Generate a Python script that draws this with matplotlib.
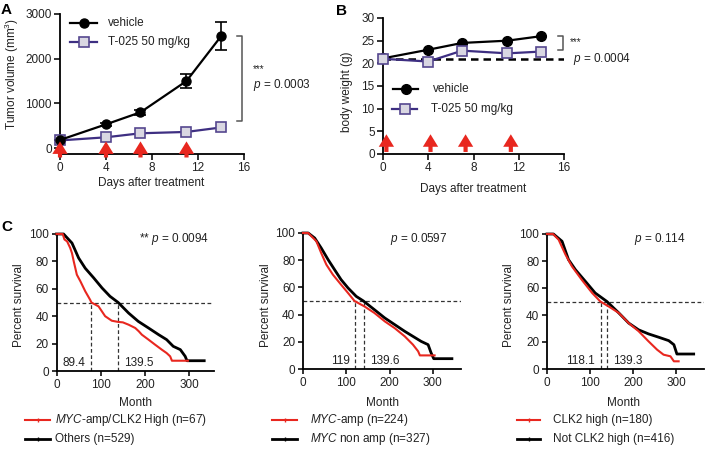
import numpy as np
import matplotlib.pyplot as plt
from matplotlib.lines import Line2D

plt.rcParams['font.family'] = ['Liberation Sans', 'DejaVu Sans']
plt.rcParams['font.size'] = 8.5
plt.rcParams['mathtext.fontset'] = 'custom'
plt.rcParams['mathtext.it'] = 'Liberation Sans:italic'
plt.rcParams['mathtext.rm'] = 'Liberation Sans'
plt.rcParams['text.color'] = '#222222'
plt.rcParams['xtick.color'] = '#222222'
plt.rcParams['ytick.color'] = '#222222'

RED = '#e8271f'
PURPLE = '#3e2f82'
SQ_FACE = '#d9d7e2'
SQ_EDGE = '#55478f'

# ---- panel A: tumor volume ----
days = [0, 4, 7, 11, 14]
vehicle_vol = [180, 530, 800, 1500, 2500]
vehicle_err = [0, 40, 50, 160, 310]
t025_vol = [170, 240, 330, 360, 460]
dose_days_a = [0, 4, 7, 11]

# ---- panel B: body weight ----
vehicle_bw = [21.1, 23.0, 24.5, 25.0, 26.0]
t025_bw = [21.0, 20.4, 22.8, 22.2, 22.6]
baseline_bw = 21.0
dose_days_b = [0.3, 4.2, 7.3, 11.3]

# ---- panel C: Kaplan-Meier curves (month, percent survival) ----
c1_red_t = [0, 14, 18, 24, 31, 35, 39, 46, 54, 65, 76, 79, 95, 110, 125, 140, 150,
            163, 178, 186, 193, 208, 223, 238, 249, 257, 261, 297]
c1_red_s = [100, 100, 96, 94.6, 89.8, 86, 80, 70.3, 65.5, 58.2, 52, 50, 47.2, 40, 36.7,
            35.8, 35.5, 33.8, 31.4, 29, 26.5, 22.9, 19.2, 15.6, 13.1, 10.7, 7.5, 7.5]
c1_blk_t = [0, 16, 35, 50, 65, 84, 103, 121, 139.5, 163, 185, 208, 231, 249, 264,
            280, 291, 295, 334]
c1_blk_s = [100, 100, 93.4, 82.5, 75, 68, 60.6, 54.5, 50, 42.3, 36.2, 31.4, 26.5,
            22.9, 18, 15.6, 10.7, 7.5, 7.5]

c2_red_t = [0, 12, 31, 42, 54, 69, 88, 104, 119, 142, 165, 189, 212, 235, 254, 266,
            270, 304]
c2_red_s = [100, 100, 93.9, 85.3, 76.7, 69.4, 62, 55.9, 50, 46, 41.2, 35, 30, 24,
            17.9, 13, 10, 10]
c2_blk_t = [0, 12, 27, 42, 58, 73, 88, 104, 123, 139.6, 165, 189, 212, 235, 254,
            273, 289, 296, 302, 344]
c2_blk_s = [100, 100, 96.3, 89, 80.4, 73, 65.7, 59.6, 53.4, 50, 43.6, 37.5, 32.6,
            27.7, 24, 20.3, 17.9, 11.8, 7.6, 7.6]

c3_red_t = [0, 14, 27, 43, 58, 81, 105, 124, 143, 167, 190, 213, 236, 256, 271, 287,
            295, 306]
c3_red_s = [100, 100, 95.8, 84.7, 76, 66, 56.3, 50, 46.4, 41.5, 34, 28, 20.5, 14.3,
            10.6, 9.4, 5.7, 5.7]
c3_blk_t = [0, 15, 35, 50, 66, 89, 112, 139.3, 167, 190, 213, 236, 260, 283, 295,
            302, 341]
c3_blk_s = [100, 100, 94.6, 81, 73.6, 65, 56.3, 50, 41.5, 34, 29, 26, 23.5, 21, 18,
            11.1, 11.1]

km_panels = [
    dict(red=(c1_red_t, c1_red_s), blk=(c1_blk_t, c1_blk_s), med_x=[78, 139.5],
         med_lab=['89.4', '139.5'], p='** $p$ = 0.0094', xmax=355,
         leg=['$\\it{MYC}$-amp/CLK2 High (n=67)', 'Others (n=529)']),
    dict(red=(c2_red_t, c2_red_s), blk=(c2_blk_t, c2_blk_s), med_x=[121, 142],
         med_lab=['119', '139.6'], p='$p$ = 0.0597', xmax=365,
         leg=['$\\it{MYC}$-amp (n=224)', '$\\it{MYC}$ non amp (n=327)']),
    dict(red=(c3_red_t, c3_red_s), blk=(c3_blk_t, c3_blk_s), med_x=[125, 140],
         med_lab=['118.1', '139.3'], p='$p$ = 0.114', xmax=365,
         leg=['CLK2 high (n=180)', 'Not CLK2 high (n=416)']),
]

W, H = 709, 449
fig = plt.figure(figsize=(W / 100, H / 100), dpi=100)


def box(l, t, r, b):
    return [l / W, 1 - b / H, (r - l) / W, (b - t) / H]


def fx(px):
    return px / W


def fy(py):
    return 1 - py / H


def style(ax):
    for s in ['top', 'right']:
        ax.spines[s].set_visible(False)
    for s in ['left', 'bottom']:
        ax.spines[s].set_linewidth(1.3)
    ax.tick_params(width=1.3, length=4, pad=2, labelsize=8.5)


# panel A
axA = fig.add_axes(box(60, 14, 244, 154))
style(axA)
axA.errorbar(days, vehicle_vol, yerr=vehicle_err, color='black', lw=1.6, marker='o',
             ms=6.5, capsize=4, elinewidth=1.2, capthick=1.2, clip_on=False, zorder=3)
axA.plot(days, t025_vol, color=PURPLE, lw=1.6, marker='s', ms=7, mfc=SQ_FACE,
         mec=SQ_EDGE, mew=1.2, clip_on=False, zorder=3)
for d in dose_days_a:
    axA.annotate('', xy=(d, 0.09), xytext=(d, -0.025),
                 xycoords=('data', 'axes fraction'),
                 arrowprops=dict(facecolor=RED, edgecolor='none', width=3,
                                 headwidth=11, headlength=9, shrink=0),
                 annotation_clip=False, zorder=4)
axA.set_xlim(0, 16)
axA.set_ylim(-134, 3000)
axA.set_xticks([0, 4, 8, 12, 16])
axA.set_yticks([0, 1000, 2000, 3000])
# significance bracket
axA.plot([15.4, 15.8, 15.8, 15.4], [2500, 2500, 600, 600], color='#555555', lw=1.1,
         clip_on=False)
fig.text(fx(253), fy(69), '***', fontsize=7, va='center')
fig.text(fx(253), fy(85), '$p$ = 0.0003', va='center')
fig.text(fx(12), fy(74), 'Tumor volume (mm$^3$)', rotation=90, ha='center', va='center')
fig.text(fx(151), fy(183), 'Days after treatment', ha='center', va='center')
fig.text(fx(1), fy(10), 'A', fontsize=11, fontweight='bold', va='center', color='black')
# legend A
fig.add_artist(Line2D([fx(70), fx(97)], [fy(23), fy(23)], color='black', lw=1.6,
                      transform=fig.transFigure))
fig.add_artist(Line2D([fx(83.5)], [fy(23)], color='black', marker='o', ms=6.5,
                      transform=fig.transFigure))
fig.add_artist(Line2D([fx(70), fx(97)], [fy(42), fy(42)], color=PURPLE, lw=1.6,
                      transform=fig.transFigure))
fig.add_artist(Line2D([fx(83.5)], [fy(42)], marker='s', ms=7, mfc=SQ_FACE, mec=SQ_EDGE,
                      mew=1.2, transform=fig.transFigure))
fig.text(fx(108), fy(23), 'vehicle', va='center')
fig.text(fx(108), fy(42), 'T-025 50 mg/kg', va='center')

# panel B
axB = fig.add_axes(box(383, 18, 564, 154))
style(axB)
axB.plot([0, 16], [baseline_bw, baseline_bw], color='black', lw=1.8, ls=(0, (3, 2)),
         zorder=2)
axB.plot(days, vehicle_bw, color='black', lw=1.6, marker='o', ms=7, clip_on=False,
         zorder=3)
axB.plot(days, t025_bw, color=PURPLE, lw=1.6, marker='s', ms=7.5, mfc=SQ_FACE,
         mec=SQ_EDGE, mew=1.2, clip_on=False, zorder=3)
for d in dose_days_b:
    axB.annotate('', xy=(d, 0.145), xytext=(d, 0.015),
                 xycoords=('data', 'axes fraction'),
                 arrowprops=dict(facecolor=RED, edgecolor='none', width=3,
                                 headwidth=11, headlength=9, shrink=0),
                 annotation_clip=False, zorder=4)
axB.set_xlim(0, 16)
axB.set_ylim(0, 30)
axB.set_xticks([0, 4, 8, 12, 16])
axB.set_yticks([0, 5, 10, 15, 20, 25, 30])
axB.plot([15.5, 15.9, 15.9, 15.5], [26.0, 26.0, 22.9, 22.9], color='#555555', lw=1.1,
         clip_on=False)
fig.text(fx(570), fy(42), '***', fontsize=7, va='center')
fig.text(fx(573), fy(59), '$p$ = 0.0004', va='center')
fig.text(fx(347), fy(92), 'body weight (g)', rotation=90, ha='center', va='center')
fig.text(fx(473), fy(189), 'Days after treatment', ha='center', va='center')
fig.text(fx(336), fy(11), 'B', fontsize=11, fontweight='bold', va='center', color='black')
fig.add_artist(Line2D([fx(393), fx(418)], [fy(89), fy(89)], color='black', lw=1.6,
                      transform=fig.transFigure))
fig.add_artist(Line2D([fx(406)], [fy(89)], color='black', marker='o', ms=7,
                      transform=fig.transFigure))
fig.add_artist(Line2D([fx(392), fx(417)], [fy(109), fy(109)], color=PURPLE, lw=1.6,
                      transform=fig.transFigure))
fig.add_artist(Line2D([fx(404.5)], [fy(109)], marker='s', ms=7.5, mfc=SQ_FACE,
                      mec=SQ_EDGE, mew=1.2, transform=fig.transFigure))
fig.text(fx(433), fy(89), 'vehicle', va='center')
fig.text(fx(431), fy(109), 'T-025 50 mg/kg', va='center')

# panel C
c_boxes = [(56.5, 234, 213.5, 371), (303, 233, 461, 369), (547, 234, 704, 369)]
ylab_x = [19, 266, 509]
month_x = [135, 382, 624]
p_right = [209, 447, 685]
leg_line = [(25, 50, 55), (272, 297, 310), (517, 540, 553)]
for i, (pan, bx) in enumerate(zip(km_panels, c_boxes)):
    ax = fig.add_axes(box(*bx))
    style(ax)
    ax.tick_params(length=3.5)
    ax.set_xlim(0, pan['xmax'])
    ax.set_ylim(0, 100)
    ax.set_xticks([0, 100, 200, 300])
    ax.set_yticks([0, 20, 40, 60, 80, 100])
    ax.plot([0, pan['xmax']], [50, 50], color='#333333', lw=0.9, ls=(0, (3, 2)))
    for mx in pan['med_x']:
        ax.plot([mx, mx], [0, 50], color='#333333', lw=0.9, ls=(0, (3, 2)))
    ax.plot(*pan['blk'], color='black', lw=2.0, clip_on=False, zorder=3)
    ax.plot(*pan['red'], color=RED, lw=1.5, clip_on=False, zorder=4)
    ax.annotate(pan['med_lab'][0], xy=(pan['med_x'][0], 6), xytext=(-4, 0),
                textcoords='offset points', ha='right', va='center')
    ax.annotate(pan['med_lab'][1], xy=(pan['med_x'][1], 6), xytext=(4, 0),
                textcoords='offset points', ha='left', va='center')
    fig.text(fx(p_right[i]), fy(239), pan['p'], ha='right', va='center')
    fig.text(fx(ylab_x[i]), fy(305), 'Percent survival', rotation=90, ha='center',
             va='center')
    fig.text(fx(month_x[i]), fy(403), 'Month', ha='center', va='center')
    x0, x1, xt = leg_line[i]
    for j, (col, lw) in enumerate([(RED, 1.5), ('black', 2.0)]):
        yy = fy(420 + 19 * j)
        fig.add_artist(Line2D([fx(x0), fx(x1)], [yy, yy], color=col, lw=lw,
                              transform=fig.transFigure))
        fig.add_artist(Line2D([fx((x0 + x1) / 2)], [yy], color=col, marker='|', ms=3,
                              mew=1, transform=fig.transFigure))
        fig.text(fx(xt), yy, pan['leg'][j], va='center')
fig.text(fx(1), fy(227), 'C', fontsize=11, fontweight='bold', va='center', color='black')

fig.savefig('out.png', dpi=100)
